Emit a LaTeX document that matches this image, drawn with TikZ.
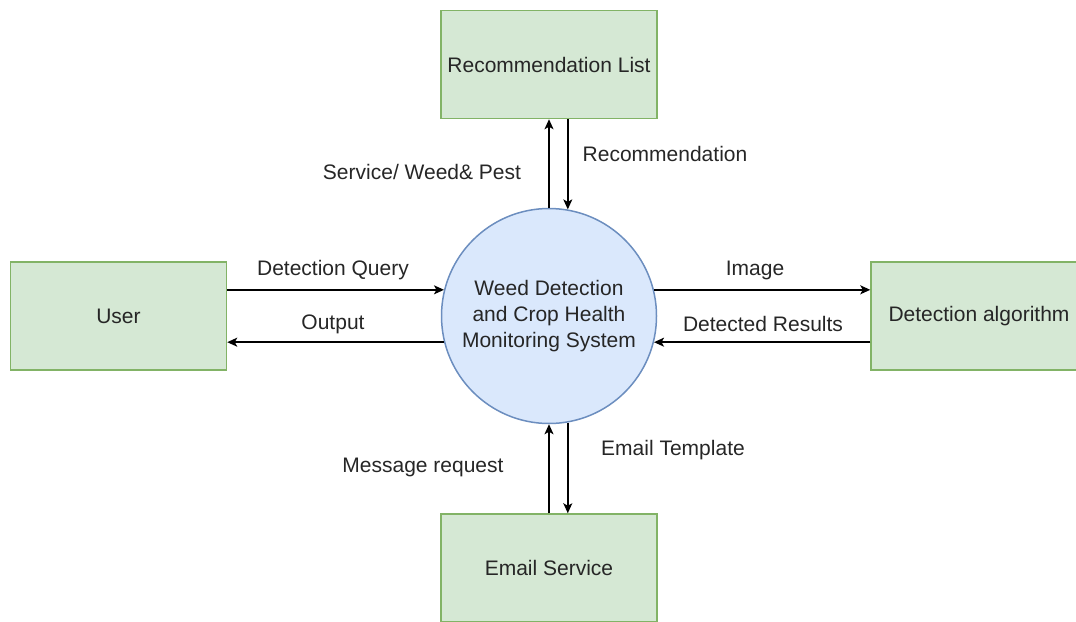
\documentclass[tikz,border=0pt]{standalone}
\usepackage{fontspec}
\setmainfont{Liberation Sans}
\usetikzlibrary{positioning, arrows.meta}
\definecolor{boxfill}{HTML}{D5E8D4}
\definecolor{boxline}{HTML}{82B366}
\definecolor{sysfill}{HTML}{DAE8FC}
\definecolor{sysline}{HTML}{6C8EBF}
\definecolor{txt}{HTML}{262626}

\begin{document}
\begin{tikzpicture}[x=1pt,y=-1pt,
	font=\fontsize{21}{26}\selectfont,
	entity/.style={fill=boxfill,draw=boxline,line width=1.5pt,minimum width=216pt,minimum height=108pt,text=txt},
	flow/.style={-{Stealth[length=10pt,width=9pt,inset=2.5pt]},line width=1.5pt},
	lbl/.style={text=txt}]
	\useasboundingbox (0,0) rectangle (1076,621);

	\node (sys) at (549,316) [circle,fill=sysfill,draw=sysline,line width=1.5pt,minimum size=215pt,inner sep=0pt,align=center,text=txt] {Weed Detection\\and Crop Health\\Monitoring System};
	\node (reclist) at (549,64.5) [entity] {Recommendation List};
	\node (user) at (118.5,316) [entity] {User};
	\node (algo) at (979,316) [entity] {Detection algorithm};
	\node (mail) at (549,568) [entity] {Email Service};

	\draw[flow] (sys.north) -- (reclist.south);
	\draw[flow] (sys.80 |- reclist.south) -- (sys.80);
	\draw[flow] (user.east |- sys.166) -- (sys.166);
	\draw[flow] (sys.194) -- (user.east |- sys.194);
	\draw[flow] (sys.14) -- (algo.west |- sys.14);
	\draw[flow] (algo.west |- sys.-14) -- (sys.-14);
	\draw[flow] (mail.north) -- (sys.south);
	\draw[flow] (sys.-80) -- (sys.-80 |- mail.north);

	%labels
	\node[lbl] (servlabel) at (422,172) {Service/ Weed\& Pest};
	\node[lbl] (reclabel) at (665,154) {Recommendation};
	\node[lbl] (querylabel) at (333,270) {Detection Query};
	\node[lbl] (outlabel) at (333,324) {Output};
	\node[lbl] (imglabel) at (755,270) {Image};
	\node[lbl] (reslabel) at (763,324) {Detected Results};
	\node[lbl] (msglabel) at (423,467) {Message request};
	\node[lbl] (tpllabel) at (673,450) {Email Template};
\end{tikzpicture}
\end{document}
